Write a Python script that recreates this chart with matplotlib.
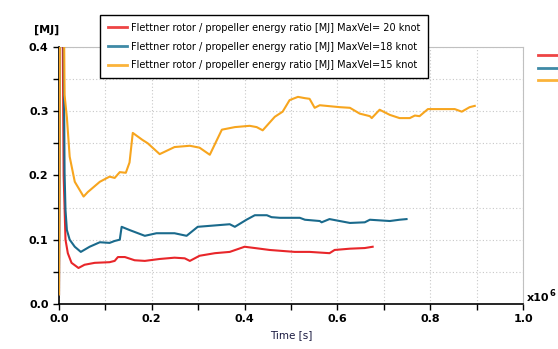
import numpy as np
import matplotlib
matplotlib.use("Agg")
import matplotlib.pyplot as plt
from matplotlib.ticker import MultipleLocator
from matplotlib.lines import Line2D

# --- datos (tiempo en unidades de 1e6 s) ---
t20 = [0.0, 0.002, 0.008, 0.010, 0.014, 0.019, 0.027, 0.042, 0.055, 0.077,
       0.109, 0.120, 0.127, 0.142, 0.163, 0.185, 0.217, 0.249, 0.271, 0.282,
       0.303, 0.336, 0.368, 0.400, 0.422, 0.454, 0.508, 0.540, 0.583, 0.594,
       0.627, 0.659, 0.676]
r20 = [0.015, 0.45, 0.42, 0.200, 0.100, 0.079, 0.064, 0.056, 0.061, 0.064,
       0.065, 0.067, 0.073, 0.073, 0.068, 0.067, 0.070, 0.072, 0.071, 0.067,
       0.075, 0.079, 0.081, 0.089, 0.087, 0.084, 0.081, 0.081, 0.079, 0.084,
       0.086, 0.087, 0.089]

t18 = [0.0, 0.002, 0.010, 0.012, 0.014, 0.017, 0.023, 0.034, 0.047, 0.066,
       0.088, 0.109, 0.120, 0.131, 0.135, 0.152, 0.185, 0.210, 0.249, 0.275,
       0.299, 0.368, 0.379, 0.404, 0.422, 0.448, 0.458, 0.476, 0.519, 0.530,
       0.562, 0.566, 0.583, 0.605, 0.627, 0.659, 0.670, 0.713, 0.734, 0.749]
r18 = [0.015, 0.45, 0.42, 0.204, 0.146, 0.115, 0.100, 0.089, 0.081, 0.089,
       0.096, 0.095, 0.098, 0.100, 0.120, 0.115, 0.106, 0.110, 0.110, 0.106,
       0.120, 0.124, 0.120, 0.131, 0.138, 0.138, 0.135, 0.134, 0.134, 0.131,
       0.129, 0.127, 0.132, 0.129, 0.126, 0.127, 0.131, 0.129, 0.131, 0.132]

t15 = [0.0, 0.002, 0.011, 0.012, 0.017, 0.023, 0.034, 0.053, 0.062, 0.088,
       0.109, 0.120, 0.131, 0.144, 0.152, 0.159, 0.180, 0.191, 0.217, 0.249,
       0.282, 0.303, 0.325, 0.351, 0.379, 0.411, 0.426, 0.439, 0.465, 0.482,
       0.497, 0.515, 0.530, 0.540, 0.551, 0.562, 0.605, 0.627, 0.648, 0.670,
       0.674, 0.691, 0.713, 0.734, 0.756, 0.767, 0.777, 0.795, 0.820, 0.853,
       0.868, 0.885, 0.896]
r15 = [0.015, 0.45, 0.42, 0.325, 0.290, 0.229, 0.190, 0.167, 0.174, 0.190,
       0.198, 0.196, 0.205, 0.204, 0.220, 0.266, 0.255, 0.250, 0.233, 0.244,
       0.246, 0.243, 0.232, 0.271, 0.275, 0.277, 0.275, 0.270, 0.291, 0.299,
       0.317, 0.322, 0.320, 0.319, 0.305, 0.309, 0.306, 0.305, 0.296, 0.292,
       0.289, 0.302, 0.294, 0.289, 0.289, 0.293, 0.292, 0.303, 0.303, 0.303,
       0.299, 0.306, 0.308]

labels = ["Flettner rotor / propeller energy ratio [MJ] MaxVel= 20 knot",
          "Flettner rotor / propeller energy ratio [MJ] MaxVel=18 knot",
          "Flettner rotor / propeller energy ratio [MJ] MaxVel=15 knot"]
colors = ["#e8262a", "#1a6a8c", "#f7a51e"]
leg_colors = ["#ee4444", "#3f8aa6", "#fbb33a"]

fig = plt.figure(figsize=(5.58, 3.49), dpi=100)
ax = fig.add_axes([59/558, 1 - 304/349, (523 - 59)/558, (304 - 46.7)/349])

for t, r, c in zip([t20, t18, t15], [r20, r18, r15], colors):
    ax.plot(t, r, color=c, lw=1.5, zorder=3)

ax.set_xlim(0, 1.0)
ax.set_ylim(0, 0.4)
ax.xaxis.set_major_locator(MultipleLocator(0.2))
ax.xaxis.set_minor_locator(MultipleLocator(0.1))
ax.yaxis.set_major_locator(MultipleLocator(0.1))
ax.yaxis.set_minor_locator(MultipleLocator(0.05))
ax.grid(True, which="both", linestyle=(0, (1, 2)), color="#c8c8c8", lw=0.8)
ax.tick_params(which="both", direction="out", length=4, width=1, labelsize=8)
ax.set_xticklabels([f"{v:.1f}" for v in ax.get_xticks()], fontweight="bold")
ax.set_yticklabels([f"{v:.1f}" for v in ax.get_yticks()], fontweight="bold")
ax.spines["left"].set_linewidth(1.2)
ax.spines["bottom"].set_linewidth(1.2)
ax.spines["top"].set_color("#c0c0c0")
ax.spines["right"].set_color("#c0c0c0")

ax.set_xlabel("Time [s]", fontsize=7.5, color="#1a1a40", labelpad=4)
fig.text(47/558, 1 - 30/349, "[MJ]", fontsize=8, fontweight="bold",
         ha="center", va="center")
fig.text(527/558, 1 - 298/349, "x10", fontsize=8, fontweight="bold",
         ha="left", va="center")
fig.text(549/558, 1 - 293/349, "6", fontsize=6, fontweight="bold",
         ha="left", va="center")

handles = [Line2D([], [], color=c, lw=2) for c in leg_colors]
leg = fig.legend(handles, labels, loc="upper left",
                 bbox_to_anchor=(100/558, 1 - 15/349), borderaxespad=0,
                 fontsize=7, frameon=True, fancybox=False, edgecolor="black",
                 framealpha=1, handlelength=2.0, handletextpad=0.4,
                 labelspacing=0.9, borderpad=0.8)
leg.get_frame().set_linewidth(1)

leg2 = fig.legend(handles, ["", "", ""], loc="upper left",
                  bbox_to_anchor=(534/558, 1 - 47/349), borderaxespad=0,
                  fontsize=7, frameon=False, handlelength=2.5,
                  labelspacing=0.25, borderpad=0.4)

fig.savefig("out.png", dpi=100)
